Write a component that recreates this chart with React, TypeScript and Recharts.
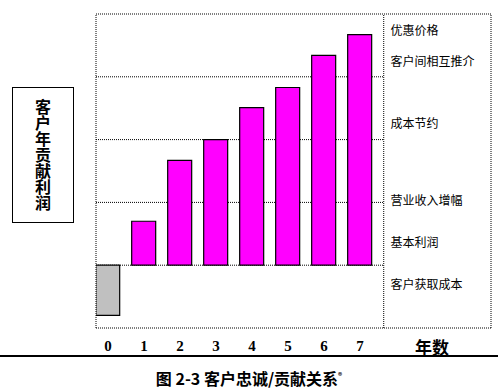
import React from 'react';
import {
  ComposedChart,
  Bar,
  Cell,
  XAxis,
  YAxis,
  Scatter,
  ReferenceLine,
} from 'recharts';

// years on the x axis and the yearly profit per customer (grid units)
const years = [0, 1, 2, 3, 4, 5, 6, 7];
const profits = [-0.8, 0.7, 1.67, 2.0, 2.51, 2.83, 3.34, 3.67];

// labels in the right-hand column and the level they sit at
const factorNames = ['优惠价格', '客户间相互推介', '成本节约', '营业收入增幅', '基本利润', '客户获取成本'];
const factorLevels = [3.76, 3.26, 2.27, 1.04, 0.37, -0.29];

const tickLabels = ['0', '1', '2', '3', '4', '5', '6', '7', '年数'];
const tickValues = [0, 1, 2, 3, 4, 5, 6, 7, 9];
const gridLevels = [0, 1, 2, 3];

const X_MIN = -0.333;
const X_MAX = 10.64;
const DIVIDER = 7.66;
const LABEL_COL = 7.85;
const Y_MIN = -1;
const Y_MAX = 4;

const MAGENTA = '#ff00ff';
const GRAY = '#c0c0c0';
const CJK = '"Noto Sans CJK SC", sans-serif';

const barData = years.map((x, i) => ({ x, y: profits[i] }));
const factorData = factorNames.map((name, i) => ({ x: LABEL_COL, y: factorLevels[i], name }));

const YearTick = (props: any) => {
  const { x, y, index, payload } = props;
  const label = tickLabels[index] ?? String(payload.value);
  const isUnit = label === '年数';
  return (
    <text
      x={x}
      y={y + 10}
      textAnchor="middle"
      dominantBaseline="central"
      fontFamily={isUnit ? CJK : '"Liberation Serif", serif'}
      fontWeight="bold"
      fontSize={isUnit ? 17 : 15}
      fill="#000"
    >
      {label}
    </text>
  );
};

const FactorLabel = (props: any) => {
  const { cx, cy, payload } = props;
  return (
    <text x={cx} y={cy} dominantBaseline="central" fontFamily={CJK} fontSize={12} fill="#000">
      {payload.name}
    </text>
  );
};

const dotted = { stroke: '#000', strokeWidth: 1, strokeDasharray: '1 1', ifOverflow: 'visible' as const };

export default function App() {
  return (
    <div style={{ position: 'absolute', left: 0, top: 0, width: 498, height: 390, background: '#fff' }}>
      {/* y axis caption in its own box */}
      <div
        style={{
          position: 'absolute',
          left: 12,
          top: 87,
          width: 60,
          height: 134,
          border: '1px solid #000',
          display: 'flex',
          alignItems: 'center',
          justifyContent: 'center',
        }}
      >
        <div
          style={{
            writingMode: 'vertical-rl',
            fontFamily: CJK,
            fontWeight: 'bold',
            fontSize: 16,
            lineHeight: 1,
            letterSpacing: 0,
          }}
        >
          客户年贡献利润
        </div>
      </div>

      <ComposedChart
        width={498}
        height={390}
        data={barData}
        margin={{ top: 14, right: 7, left: 96, bottom: 32 }}
      >
        <XAxis
          type="number"
          dataKey="x"
          domain={[X_MIN, X_MAX]}
          allowDataOverflow
          ticks={tickValues}
          interval={0}
          axisLine={false}
          tickLine={false}
          tick={<YearTick />}
          height={30}
        />
        <YAxis type="number" domain={[Y_MIN, Y_MAX]} allowDataOverflow hide />

        {gridLevels.map((lv) => (
          <ReferenceLine
            key={`g-${lv}`}
            {...dotted}
            zIndex={-10}
            segment={[{ x: X_MIN, y: lv }, { x: DIVIDER, y: lv }]}
          />
        ))}
        <ReferenceLine {...dotted} y={Y_MAX} />
        <ReferenceLine {...dotted} y={Y_MIN} />
        <ReferenceLine {...dotted} x={X_MIN} />
        <ReferenceLine {...dotted} x={X_MAX} />
        <ReferenceLine {...dotted} x={DIVIDER} />

        <Bar dataKey="y" barSize={24} stroke="#000" strokeWidth={1.2} isAnimationActive={false}>
          {barData.map((d, i) => (
            <Cell key={`c-${i}`} fill={d.y < 0 ? GRAY : MAGENTA} />
          ))}
        </Bar>
        <Scatter data={factorData} dataKey="y" shape={<FactorLabel />} isAnimationActive={false} />
      </ComposedChart>

      {/* figure caption */}
      <div style={{ position: 'absolute', left: 0, top: 355, width: 498, height: 2, background: '#000' }} />
      <div
        style={{
          position: 'absolute',
          left: 0,
          top: 366,
          width: 498,
          textAlign: 'center',
          fontFamily: CJK,
          fontWeight: 'bold',
          fontSize: 16,
          lineHeight: '20px',
        }}
      >
        图 2-3 客户忠诚/贡献关系<sup style={{ fontSize: 8 }}>®</sup>
      </div>
    </div>
  );
}
